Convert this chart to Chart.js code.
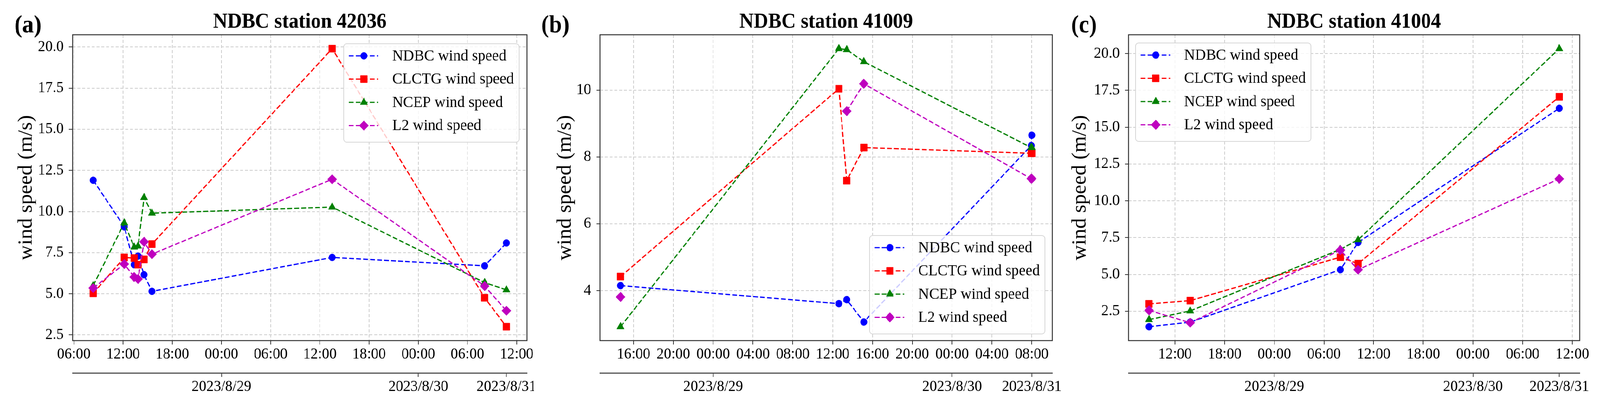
<!DOCTYPE html>
<html lang="en">

<head>
  <meta charset="UTF-8">
  <title>NDBC wind speed</title>
  <script src="https://cdn.jsdelivr.net/npm/chart.js"></script>
  <style>
    html, body { margin: 0; padding: 0; background: #fff; overflow: hidden; }
    #stage { position: absolute; left: 0; top: 0; width: 4344px; height: 1042px; transform-origin: 0 0; }
    .panel { position: absolute; top: 0; height: 1042px; }
    #pa { left: 0; width: 1450px; }
    #pb { left: 1450px; width: 1450px; }
    #pc { left: 2900px; width: 1444px; }
  </style>
</head>

<body>
  <div id="stage">
    <div class="panel" id="pa"><canvas id="chartA"></canvas></div>
    <div class="panel" id="pb"><canvas id="chartB"></canvas></div>
    <div class="panel" id="pc"><canvas id="chartC"></canvas></div>
  </div>

  <script>
    // hours counted from 2023/8/28 00:00
    // (a) station 42036
    const timesA = [8.36, 12.15, 13.35, 13.83, 14.56, 15.52, 37.5, 56.1, 58.75];
    const ndbcA  = [11.9, 9.07, 6.77, 7.29, 6.16, 5.15, 7.21, 6.70, 8.09];
    const clctgA = [5.03, 7.21, 7.17, 6.77, 7.09, 8.02, 19.9, 4.76, 3.0];
    const ncepA  = [5.5, 9.31, 7.84, 7.9, 10.85, 9.9, 10.27, 5.68, 5.24];
    const l2A    = [5.35, 6.81, 6.02, 5.9, 8.16, 7.41, 11.96, 5.47, 3.97];

    // (b) station 41009
    const timesB = [14.7, 36.63, 37.42, 39.13, 55.95, 56.0];
    const ndbcB  = [4.15, 3.61, 3.73, 3.06, 8.34, 8.65];
    const clctgB = [4.42, 10.04, 7.29, 8.28, 8.11, 8.11];
    const ncepB  = [2.92, 11.24, 11.21, 10.85, 8.28, 8.28];
    const l2B    = [3.81, null, 9.37, 10.19, 7.35, 7.35];

    // (c) station 41004
    const timesC = [8.87, 13.84, 31.97, 34.12, 58.42];
    const ndbcC  = [1.45, 1.76, 5.32, 7.17, 16.28];
    const clctgC = [3.0, 3.22, 6.17, 5.73, 17.06];
    const ncepC  = [1.93, 2.52, 6.7, 7.35, 20.33];
    const l2C    = [2.56, 1.72, 6.65, 5.32, 11.49];

    const hourTicksA = [6, 12, 18, 24, 30, 36, 42, 48, 54, 60];
    const hourTicksB = [16, 20, 24, 28, 32, 36, 40, 44, 48, 52, 56];
    const hourTicksC = [12, 18, 24, 30, 36, 42, 48, 54, 60];
    const dateTicksA = [24, 48, 58.75];
    const dateTicksB = [24, 48, 56];
    const dateTicksC = [24, 48, 58.42];
    const dateLabels = ['2023/8/29', '2023/8/30', '2023/8/31'];
    const yTicksA = [2.5, 5, 7.5, 10, 12.5, 15, 17.5, 20];
    const yTicksB = [4, 6, 8, 10];
    const yTicksC = [2.5, 5, 7.5, 10, 12.5, 15, 17.5, 20];

    const seriesNames = ['NDBC wind speed', 'CLCTG wind speed', 'NCEP wind speed', 'L2 wind speed'];
    const seriesColors = ['#0000ff', '#ff0000', '#008000', '#bf00bf'];
    const pointStyles = ['circle', 'rect', 'triangle', 'rectRot'];
    const pointRadii = [9, 13, 11.5, 12.5];

    const FONT = '"Liberation Serif", "Times New Roman", serif';
    const DASH = [13, 6];

    // fit the 4344x1042 layout to whatever the real viewport is
    const stage = document.getElementById('stage');
    const sx = window.innerWidth / 4344, sy = window.innerHeight / 1042;
    if (Math.abs(sx - 1) > 0.001 || Math.abs(sy - 1) > 0.001) {
      stage.style.transform = 'scale(' + sx + ',' + sy + ')';
    }

    // matplotlib style 5% margins
    function padRange(vals) {
      const v = vals.filter(d => d !== null);
      const lo = Math.min(...v), hi = Math.max(...v);
      const m = (hi - lo) * 0.05;
      return [lo - m, hi + m];
    }

    function drawMarker(ctx, style, r, x, y) {
      if (Chart.helpers && Chart.helpers.drawPoint) {
        Chart.helpers.drawPoint(ctx, { pointStyle: style, radius: r, borderWidth: 1, rotation: 0 }, x, y);
        return;
      }
      ctx.beginPath();
      ctx.arc(x, y, r, 0, Math.PI * 2);
      ctx.fill();
    }

    const decorPlugin = {
      id: 'decor',
      afterDatasetsDraw(chart, args, opts) {
        const { ctx, chartArea: a } = chart;
        ctx.save();
        // axes frame
        ctx.strokeStyle = '#333';
        ctx.lineWidth = 2.5;
        ctx.strokeRect(a.left, a.top, a.right - a.left, a.bottom - a.top);

        // title and panel tag
        ctx.fillStyle = '#000';
        ctx.textAlign = 'center';
        ctx.textBaseline = 'middle';
        ctx.font = 'bold 54px ' + FONT;
        ctx.fillText(opts.title, (a.left + a.right) / 2, 57);
        ctx.font = 'bold 63px ' + FONT;
        ctx.fillText(opts.tag, a.left - 121, 67);

        // legend
        const lw = 476, lh = 252;
        const lg = opts.legend;
        const bx = lg.corner[1] === 'r' ? a.right - lg.dx - lw : a.left + lg.dx;
        const by = lg.corner[0] === 'b' ? a.bottom - lg.dy - lh : a.top + lg.dy;
        ctx.beginPath();
        if (ctx.roundRect) ctx.roundRect(bx, by, lw, lh, 8); else ctx.rect(bx, by, lw, lh);
        ctx.fillStyle = 'rgba(255,255,255,0.8)';
        ctx.fill();
        ctx.strokeStyle = '#d6d6d6';
        ctx.lineWidth = 2;
        ctx.stroke();

        chart.data.datasets.forEach((ds, i) => {
          const y = by + 31 + i * 59.5;
          ctx.strokeStyle = ds.borderColor;
          ctx.fillStyle = ds.borderColor;
          ctx.lineWidth = 3.2;
          ctx.setLineDash(DASH);
          ctx.beginPath();
          ctx.moveTo(bx + 14, y);
          ctx.lineTo(bx + 94, y);
          ctx.stroke();
          ctx.setLineDash([]);
          ctx.lineWidth = 1;
          drawMarker(ctx, ds.pointStyle, ds.pointRadius, bx + 55, y);
          ctx.fillStyle = '#000';
          ctx.textAlign = 'left';
          ctx.font = '41px ' + FONT;
          ctx.fillText(ds.label, bx + 132, y + 1);
        });
        ctx.restore();
      }
    };

    function tickList(list) {
      return function (scale) {
        scale.ticks = list.map(v => ({ value: v }));
      };
    }

    function makeChart(id, cfg) {
      const [xmin, xmax] = padRange(cfg.times);
      const [ymin, ymax] = padRange([].concat(...cfg.series));
      const ctx = document.getElementById(id).getContext('2d');

      const datasets = seriesNames.map((name, k) => ({
        label: name,
        data: cfg.times.map((t, i) => ({ x: t, y: cfg.series[k][i] })),
        borderColor: seriesColors[k],
        backgroundColor: seriesColors[k],
        borderWidth: 3.2,
        borderDash: DASH,
        pointStyle: pointStyles[k],
        pointRadius: pointRadii[k],
        pointBorderWidth: 1,
        pointBackgroundColor: seriesColors[k],
        pointBorderColor: seriesColors[k],
        tension: 0,
        spanGaps: false,
        order: 3 - k
      }));

      const tickFont = { family: FONT, size: 40, lineHeight: 1.2 };

      return new Chart(ctx, {
        type: 'line',
        data: { datasets: datasets },
        plugins: [decorPlugin],
        options: {
          responsive: true,
          maintainAspectRatio: false,
          animation: false,
          events: [],
          layout: { padding: { left: 0, right: cfg.padRight, top: 89, bottom: 0 } },
          plugins: {
            legend: { display: false },
            tooltip: { enabled: false },
            decor: { title: cfg.title, tag: cfg.tag, legend: cfg.legend }
          },
          scales: {
            x: {
              type: 'linear', position: 'bottom', weight: 0,
              min: xmin, max: xmax,
              afterBuildTicks: tickList(cfg.hourTicks),
              ticks: {
                font: tickFont, color: '#000', padding: 1, maxRotation: 0, autoSkip: false,
                callback: v => String(Math.round(v) % 24).padStart(2, '0') + ':00'
              },
              grid: { color: '#cccccc', lineWidth: 2, tickLength: 10, tickColor: '#333', tickWidth: 2 },
              border: { display: false, dash: [8, 5] },
              afterFit(s) { s.height = 83; s.paddingLeft = 0; s.paddingRight = 0; }
            },
            x2: {
              type: 'linear', position: 'bottom', weight: 1,
              min: xmin, max: xmax,
              afterBuildTicks: tickList(cfg.dateTicks),
              ticks: {
                font: tickFont, color: '#000', padding: 1, maxRotation: 0, autoSkip: false,
                callback: (v, i) => dateLabels[i]
              },
              grid: { drawOnChartArea: false, tickLength: 10, tickColor: '#333', tickWidth: 2 },
              border: { display: true, color: '#333', width: 2.5 },
              afterFit(s) { s.height = 87; s.paddingLeft = 0; s.paddingRight = 0; }
            },
            y: {
              type: 'linear', position: 'left',
              min: ymin, max: ymax,
              afterBuildTicks: tickList(cfg.yTicks),
              ticks: {
                font: tickFont, color: '#000', padding: 14,
                callback: v => v.toFixed(cfg.yDecimals)
              },
              grid: { color: '#cccccc', lineWidth: 2, tickLength: 10, tickColor: '#333', tickWidth: 2 },
              border: { display: false, dash: [8, 5] },
              title: {
                display: true, text: 'wind speed (m/s)', color: '#000',
                font: { family: FONT, size: 54, lineHeight: 1 },
                padding: { top: cfg.yTitlePad, bottom: 0 }
              },
              afterFit(s) { s.width = cfg.left; s.paddingTop = 0; s.paddingBottom = 0; }
            }
          }
        }
      });
    }

    makeChart('chartA', {
      times: timesA, series: [ndbcA, clctgA, ncepA, l2A],
      hourTicks: hourTicksA, dateTicks: dateTicksA, yTicks: yTicksA, yDecimals: 1,
      title: 'NDBC station 42036', tag: '(a)',
      left: 197, padRight: 19, yTitlePad: 45,
      legend: { corner: 'tr', dx: 22, dy: 23 }
    });

    makeChart('chartB', {
      times: timesB, series: [ndbcB, clctgB, ncepB, l2B],
      hourTicks: hourTicksB, dateTicks: dateTicksB, yTicks: yTicksB, yDecimals: 0,
      title: 'NDBC station 41009', tag: '(b)',
      left: 179, padRight: 43, yTitlePad: 58,
      legend: { corner: 'br', dx: 20, dy: 17 }
    });

    makeChart('chartC', {
      times: timesC, series: [ndbcC, clctgC, ncepC, l2C],
      hourTicks: hourTicksC, dateTicks: dateTicksC, yTicks: yTicksC, yDecimals: 1,
      title: 'NDBC station 41004', tag: '(c)',
      left: 164, padRight: 55, yTitlePad: 6,
      legend: { corner: 'tl', dx: 19, dy: 21 }
    });
  </script>
</body>

</html>
